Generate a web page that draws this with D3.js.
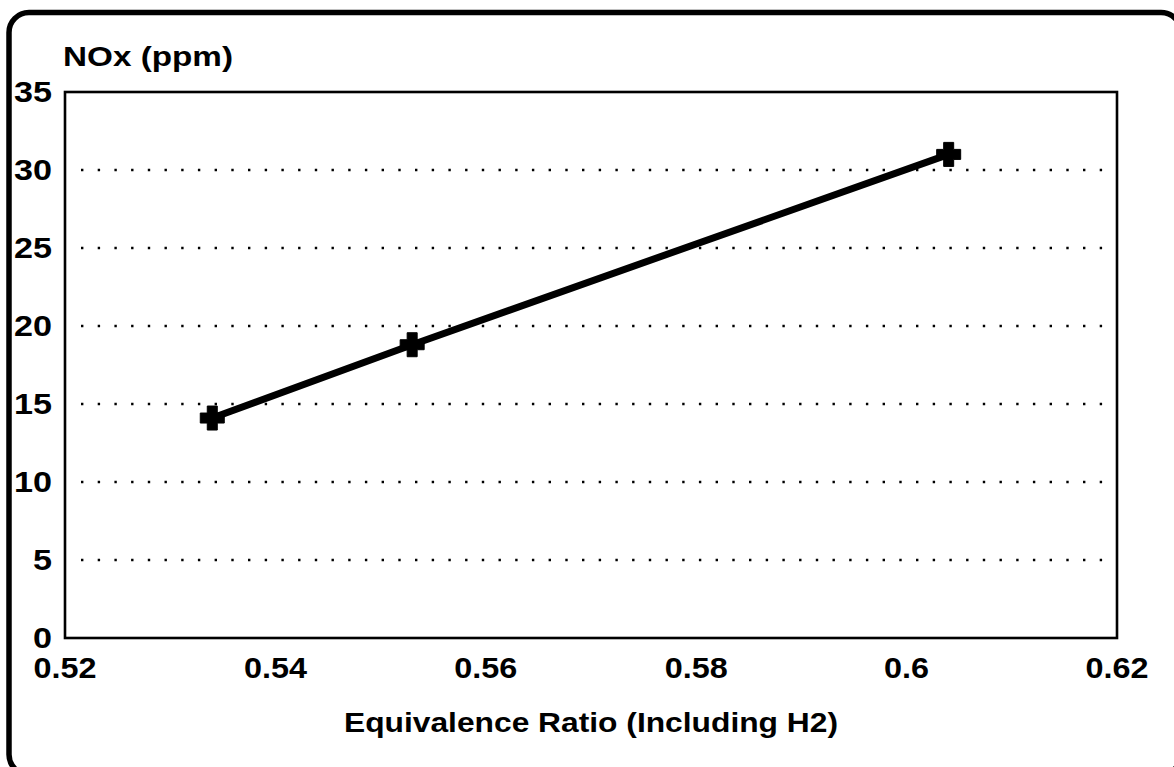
<!DOCTYPE html>
<html>
<head>
<meta charset="utf-8">
<script src="https://cdn.jsdelivr.net/npm/d3@7"></script>
<style>
  html, body { margin: 0; padding: 0; background: #fff; }
  svg text { font-family: "Liberation Sans", Arial, sans-serif; font-weight: bold; fill: #000; }
</style>
</head>
<body>
<svg id="chart" width="1174" height="767"></svg>
<script>
// ---- data ----
const equivalenceRatio = [0.534, 0.553, 0.604];
const noxPpm = [14.1, 18.8, 31.0];
const xTicks = [0.52, 0.54, 0.56, 0.58, 0.6, 0.62];
const xTickLabels = ["0.52", "0.54", "0.56", "0.58", "0.6", "0.62"];
const yTicks = [0, 5, 10, 15, 20, 25, 30, 35];
const yTickLabels = ["0", "5", "10", "15", "20", "25", "30", "35"];
const yTitle = "NOx (ppm)";
const xTitle = "Equivalence Ratio (Including H2)";

const svg = d3.select("#chart");
const plot = { left: 65, right: 1117, top: 92, bottom: 638 };

const x = d3.scaleLinear().domain([0.52, 0.62]).range([plot.left, plot.right]);
const y = d3.scaleLinear().domain([0, 35]).range([plot.bottom, plot.top]);

// outer rounded frame
svg.append("rect")
  .attr("x", 9).attr("y", 12.5)
  .attr("width", 1172).attr("height", 762)
  .attr("rx", 20).attr("ry", 20)
  .attr("fill", "none").attr("stroke", "#000").attr("stroke-width", 5.5);

// dotted grid lines
svg.append("g").selectAll("line")
  .data(yTicks.filter(t => t > 0 && t < 35))
  .join("line")
  .attr("x1", plot.left + 16).attr("x2", plot.right)
  .attr("y1", d => y(d)).attr("y2", d => y(d))
  .attr("stroke", "#000").attr("stroke-width", 2.4)
  .attr("stroke-dasharray", "2.4,14.3");

// plot border
svg.append("rect")
  .attr("x", plot.left).attr("y", plot.top)
  .attr("width", plot.right - plot.left).attr("height", plot.bottom - plot.top)
  .attr("fill", "none").attr("stroke", "#000").attr("stroke-width", 2.6);

// y tick labels
const ytl = svg.append("g");
yTicks.forEach((t, i) => {
  const lbl = yTickLabels[i];
  ytl.append("text")
    .attr("x", 52).attr("y", y(t))
    .attr("dy", "0.36em")
    .attr("text-anchor", "end")
    .attr("font-size", 29)
    .attr("textLength", 19 * lbl.length)
    .attr("lengthAdjust", "spacingAndGlyphs")
    .text(lbl);
});

// x tick labels
const xtl = svg.append("g");
xTicks.forEach((t, i) => {
  const lbl = xTickLabels[i];
  const w = lbl.length === 4 ? 63 : 45;
  xtl.append("text")
    .attr("x", x(t)).attr("y", 678)
    .attr("text-anchor", "middle")
    .attr("font-size", 29)
    .attr("textLength", w)
    .attr("lengthAdjust", "spacingAndGlyphs")
    .text(lbl);
});

// axis titles
svg.append("text")
  .attr("x", 63).attr("y", 66)
  .attr("font-size", 28)
  .attr("textLength", 170)
  .attr("lengthAdjust", "spacingAndGlyphs")
  .text(yTitle);

svg.append("text")
  .attr("x", (plot.left + plot.right) / 2).attr("y", 732)
  .attr("text-anchor", "middle")
  .attr("font-size", 28)
  .attr("textLength", 494)
  .attr("lengthAdjust", "spacingAndGlyphs")
  .text(xTitle);

// series line
const pts = equivalenceRatio.map((v, i) => [v, noxPpm[i]]);
svg.append("path")
  .datum(pts)
  .attr("d", d3.line().x(d => x(d[0])).y(d => y(d[1])))
  .attr("fill", "none").attr("stroke", "#000").attr("stroke-width", 7)
  .attr("stroke-linejoin", "round");

// markers (chunky plus signs)
const plus = (() => {
  const a = 5, L = 12;
  const p = d3.path();
  p.moveTo(-a, -L); p.lineTo(a, -L); p.lineTo(a, -a); p.lineTo(L, -a);
  p.lineTo(L, a); p.lineTo(a, a); p.lineTo(a, L); p.lineTo(-a, L);
  p.lineTo(-a, a); p.lineTo(-L, a); p.lineTo(-L, -a); p.lineTo(-a, -a);
  p.closePath();
  return p.toString();
})();
svg.append("g").selectAll("path")
  .data(pts)
  .join("path")
  .attr("transform", d => `translate(${x(d[0])},${y(d[1])})`)
  .attr("d", plus)
  .attr("fill", "#000")
  .attr("stroke", "#000").attr("stroke-width", 1)
  .attr("stroke-linejoin", "round");
</script>
</body>
</html>
